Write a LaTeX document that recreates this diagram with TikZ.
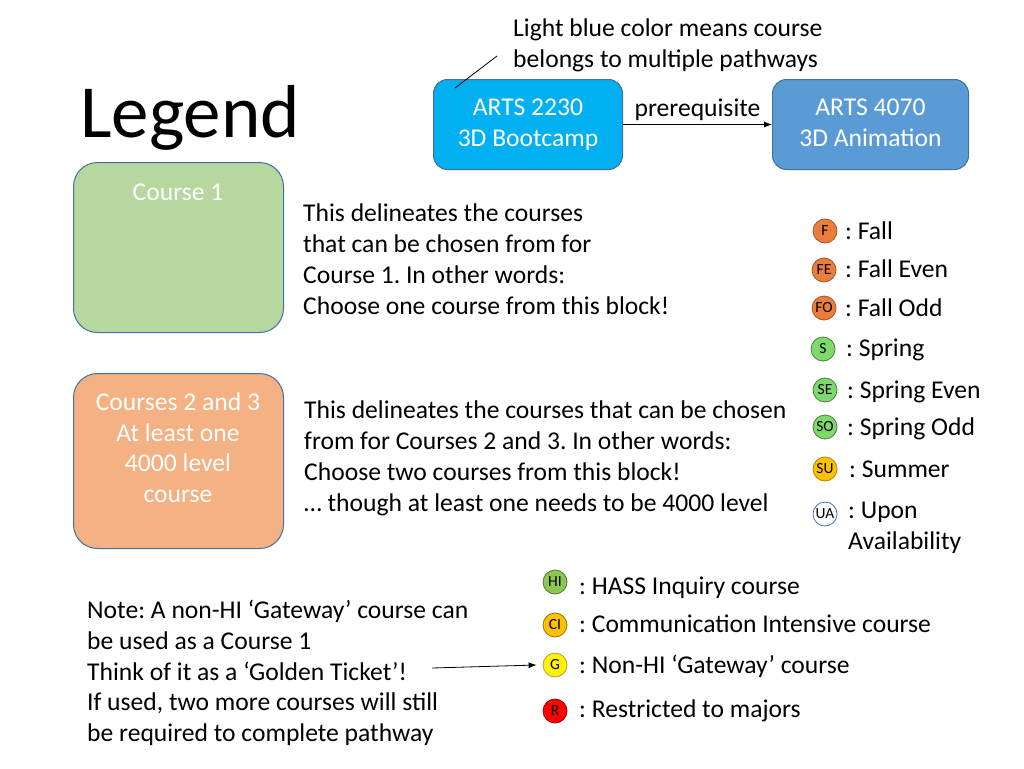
\documentclass[tikz,border=0pt]{standalone}
\usepackage{fontspec}
\setmainfont{Carlito}
\frenchspacing
\usetikzlibrary{arrows.meta}
\definecolor{boxedge}{HTML}{41719C}
\definecolor{greenfill}{HTML}{B6D7A0}
\definecolor{orangefill}{HTML}{F4B183}
\definecolor{lightblue}{HTML}{00B0F0}
\definecolor{midblue}{HTML}{5B9BD5}
\definecolor{fallc}{HTML}{EB7D3C}
\definecolor{springc}{HTML}{7ED96C}
\definecolor{summerc}{HTML}{FFC000}
\definecolor{hic}{HTML}{8CC653}
\definecolor{uaedge}{HTML}{4472C4}
\tikzset{
  body/.style={font=\fontsize{25.6}{30.7}\selectfont, inner sep=0pt, align=left, text=black},
  bigbox/.style={draw=boxedge, line width=1pt, rounded corners=24pt, minimum width=210pt, inner sep=0pt},
  topbox/.style={draw=boxedge, line width=1pt, rounded corners=14pt, minimum width=189pt, minimum height=90pt, inner sep=0pt, text=white, align=center, font=\fontsize{25.6}{30.7}\selectfont},
  dot/.style={circle, draw, line width=0.8pt, minimum size=24pt, inner sep=0pt, font=\fontsize{15.5}{16}\selectfont},
  lab/.style={font=\fontsize{25.6}{30.7}\selectfont, inner sep=0pt, anchor=base west, align=left},
  arr/.style={-{Latex[length=8pt,width=6pt]}, line width=0.8pt}
}
\begin{document}
\begin{tikzpicture}[x=1pt,y=-1pt]
\useasboundingbox (0,0) rectangle (1024,768);
\fill[white] (0,0) rectangle (1024,768);

% Title
\node[font=\fontsize{75}{80}\selectfont, anchor=base west, inner sep=0pt] (title) at (80,137) {Legend};

% Course boxes
\node[bigbox, fill=greenfill, minimum height=170pt, anchor=north west] (c1) at (73,162) {};
\node[font=\fontsize{25.6}{30.7}\selectfont, text=white, inner sep=0pt] (c1t) at (178,192) {Course 1};
\node[bigbox, fill=orangefill, minimum height=175pt, anchor=north west] (c23) at (73,373) {};
\node[text=white, align=center, font=\fontsize{25.6}{30.5}\selectfont, inner sep=0pt, anchor=north] (c23t) at (178,393)
  {Courses 2 and 3\\At least one\\4000 level\\course};

% Explanations
\node[body, anchor=north west] (d1) at (303,204) {This delineates the courses\\that can be chosen from for\\Course 1. In other words:\\Choose one course from this block!};
\node[body, anchor=north west] (d2) at (304,401) {This delineates the courses that can be chosen\\from for Courses 2 and 3. In other words:\\Choose two courses from this block!\\\ldots{} though at least one needs to be 4000 level};

% Top boxes
\node[topbox, fill=lightblue, anchor=north west] (a2230) at (433,79) {ARTS 2230\\3D Bootcamp};
\node[topbox, fill=midblue, minimum width=196pt, anchor=north west] (a4070) at (772,79) {ARTS 4070\\3D Animation\vphantom{p}};
\draw[arr] (a2230.east) -- node[above=1pt, font=\fontsize{25.6}{30.7}\selectfont, inner sep=2pt] (pre) {prerequisite} (a4070.west);
\node[body, anchor=north west] (note1) at (513,19) {Light blue color means course\\belongs to multiple pathways};
\coordinate (lstart) at (455,88);
\coordinate (lend) at (497,56);
\draw[line width=0.8pt] (lstart) -- (lend);

% Semester dots
\node[dot, fill=fallc, draw=fallc!70!black] (F) at (825,231) {F};
\node[lab] (Fl) at (845,239) {: Fall};
\node[dot, fill=fallc, draw=fallc!70!black] (FE) at (824,270) {FE};
\node[lab] (FEl) at (845,277) {: Fall Even};
\node[dot, fill=fallc, draw=fallc!70!black] (FO) at (824,308) {FO};
\node[lab] (FOl) at (845,316) {: Fall Odd};
\node[dot, fill=springc, draw=springc!60!black] (S) at (823,349) {S};
\node[lab] (Sl) at (846,356) {: Spring};
\node[dot, fill=springc, draw=springc!60!black] (SE) at (825,390) {SE};
\node[lab] (SEl) at (847,398) {: Spring Even};
\node[dot, fill=springc, draw=springc!60!black] (SO) at (825,427) {SO};
\node[lab] (SOl) at (847,435) {: Spring Odd};
\node[dot, fill=summerc, draw=summerc!70!black] (SU) at (825,469) {SU};
\node[lab] (SUl) at (849,477) {: Summer};
\node[dot, fill=white, draw=uaedge] (UA) at (825,514) {UA};
\node[lab, anchor=north west] (UAl) at (848,502) {: Upon\\Availability};

% Attribute dots
\node[dot, fill=hic, draw=hic!60!black] (HI) at (555,582) {HI};
\node[lab] (HIl) at (579,594) {: HASS Inquiry course};
\node[dot, fill=summerc, draw=summerc!60!black] (CI) at (555,625) {CI};
\node[lab] (CIl) at (579,632) {: Communication Intensive course};
\node[dot, fill=yellow, draw=yellow!60!black] (G) at (555,665) {G};
\node[lab] (Gl) at (579,673) {: Non-HI ‘Gateway’ course};
\node[dot, fill=red, draw=red!60!black] (R) at (555,711) {R};
\node[lab] (Rl) at (579,717) {: Restricted to majors};

% Note
\node[body, anchor=north west] (note) at (87,600) {Note: A non-HI ‘Gateway’ course can\\be used as a Course 1\\Think of it as a ‘Golden Ticket’!\\If used, two more courses will still\\be required to complete pathway};
\coordinate (gstart) at (432,668);
\draw[arr] (gstart) -- ([xshift=-6pt]G.west);
\end{tikzpicture}
\end{document}
